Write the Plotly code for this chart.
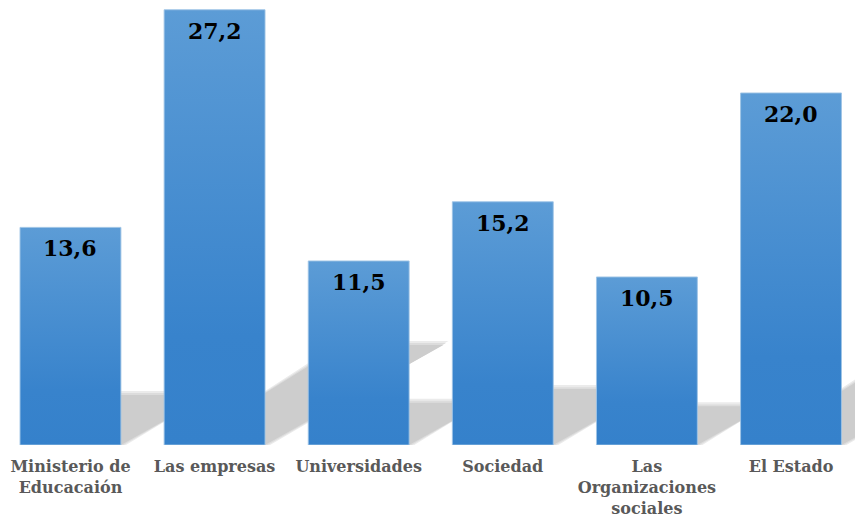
import plotly.graph_objects as go

categories = ["Ministerio de<br>Educacaión", "Las empresas", "Universidades",
              "Sociedad", "Las<br>Organizaciones<br>sociales", "El Estado"]
values = [13.6, 27.2, 11.5, 15.2, 10.5, 22.0]
value_labels = [f"{v:.1f}".replace(".", ",") for v in values]

BAR_W = 0.70
SH_DY = 0.23     # shadow height as fraction of value
SH_DX = 0.0455   # shadow horizontal shift per value unit (x-units)

fig = go.Figure()

# soft shadows (drawn below traces): outer -> core layers
shapes = []
layers = [(0.035, 0.25, "#EBEBEB"), (0.018, 0.12, "#DCDCDC"), (0.0, 0.0, "#CDCDCD")]
for grow_x, grow_y, col in layers:
    for i, v in enumerate(values):
        x0, x1 = i - BAR_W / 2, i + BAR_W / 2
        dy, dx = SH_DY * v, SH_DX * v
        path = (f"M {x0 + dx*0.1},0 L {x1 + grow_x},0 "
                f"L {x1 + dx + grow_x},{dy + grow_y} L {x0 + dx},{dy + grow_y} Z")
        shapes.append(dict(type="path", path=path, xref="x", yref="y",
                           fillcolor=col, line=dict(width=0), layer="below"))

# bars with vertical gradient
for i, v in enumerate(values):
    x0, x1 = i - BAR_W / 2, i + BAR_W / 2
    fig.add_trace(go.Scatter(
        x=[x0, x1, x1, x0, x0], y=[0, 0, v, v, 0],
        mode="lines", fill="toself",
        line=dict(color="rgba(157,195,230,0.9)", width=1),
        fillgradient=dict(type="vertical",
                          colorscale=[[0, "#3581CB"], [0.25, "#3883CC"], [1, "#5C9CD6"]]),
        hoverinfo="skip", showlegend=False))

# value labels
annotations = []
for i, (v, t) in enumerate(zip(values, value_labels)):
    annotations.append(dict(x=i, y=v, xref="x", yref="y", text=t, showarrow=False,
                            yanchor="middle", yshift=-21,
                            font=dict(family="DejaVu Serif", size=22, color="#000000",
                                      weight="bold")))

fig.update_layout(
    width=855, height=517,
    margin=dict(l=0, r=0, t=0, b=72),
    paper_bgcolor="white", plot_bgcolor="white",
    shapes=shapes, annotations=annotations,
    xaxis=dict(range=[-0.489, 5.444], tickvals=list(range(len(categories))),
               ticktext=categories, showgrid=False, zeroline=False, showline=False,
               ticks="", ticklabelstandoff=10,
               tickfont=dict(family="DejaVu Serif", size=16,
                             color="#595959", weight="bold")),
    yaxis=dict(range=[0, 27.81], visible=False, showgrid=False, zeroline=False),
)

fig.write_html("out.html", config={"displayModeBar": False},
               post_script="document.body.style.margin='0';")
